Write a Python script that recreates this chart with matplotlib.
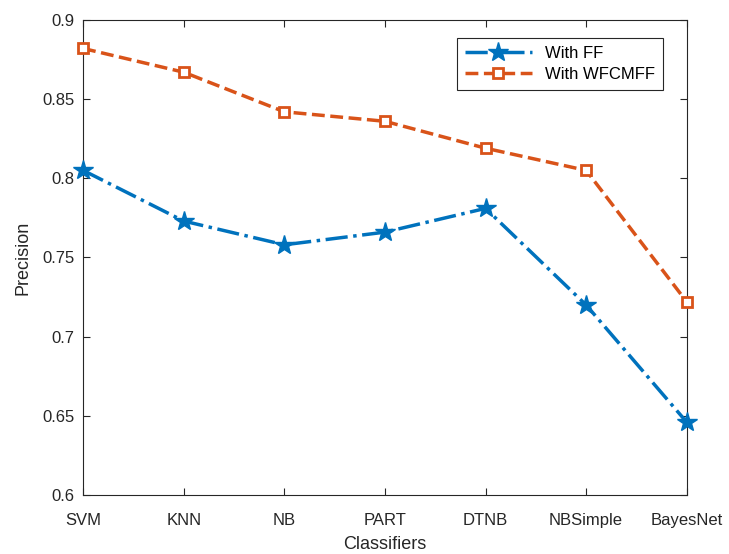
import matplotlib
matplotlib.use('Agg')
import matplotlib.pyplot as plt

classifiers = ['SVM', 'KNN', 'NB', 'PART', 'DTNB', 'NBSimple', 'BayesNet']
with_ff = [0.805, 0.773, 0.758, 0.766, 0.781, 0.720, 0.646]
with_wfcmff = [0.882, 0.867, 0.842, 0.836, 0.819, 0.805, 0.722]

plt.rcParams['font.family'] = ['Liberation Sans', 'DejaVu Sans']

fig = plt.figure(figsize=(7.29, 5.54), dpi=100)
ax = fig.add_axes([0.114, 0.1065, 0.828, 0.8575])

x = range(len(classifiers))
ax.plot(x, with_ff, color='#0072BD', linestyle='-.', linewidth=2.5,
        marker='*', markersize=15, label='With FF', clip_on=False, zorder=3)
ax.plot(x, with_wfcmff, color='#D95319', linestyle='--', linewidth=2.5,
        marker='s', markersize=7, markerfacecolor='white', markeredgewidth=2,
        label='With WFCMFF', clip_on=False, zorder=3)

ax.set_xlim(0, len(classifiers) - 1)
ax.set_ylim(0.6, 0.9)
ax.set_xticks(list(x))
ax.set_xticklabels(classifiers)
ax.set_yticks([0.6, 0.65, 0.7, 0.75, 0.8, 0.85, 0.9])
ax.set_yticklabels(['0.6', '0.65', '0.7', '0.75', '0.8', '0.85', '0.9'])
ax.tick_params(direction='in', labelsize=12, colors='#262626', top=True, right=True,
               length=5)
ax.tick_params(axis='x', pad=13)
ax.tick_params(axis='y', pad=6)
for s in ax.spines.values():
    s.set_color('#262626')

ax.set_xlabel('Classifiers', fontsize=13, color='#262626', labelpad=6)
ax.set_ylabel('Precision', fontsize=13, color='#262626', labelpad=8)

leg = ax.legend(loc='upper right', bbox_to_anchor=(0.975, 0.98), fontsize=12,
                fancybox=False, edgecolor='#262626', framealpha=1,
                handlelength=4, borderpad=0.5, labelspacing=0.35)
leg.get_frame().set_linewidth(0.8)

fig.savefig('out.png', dpi=100)
